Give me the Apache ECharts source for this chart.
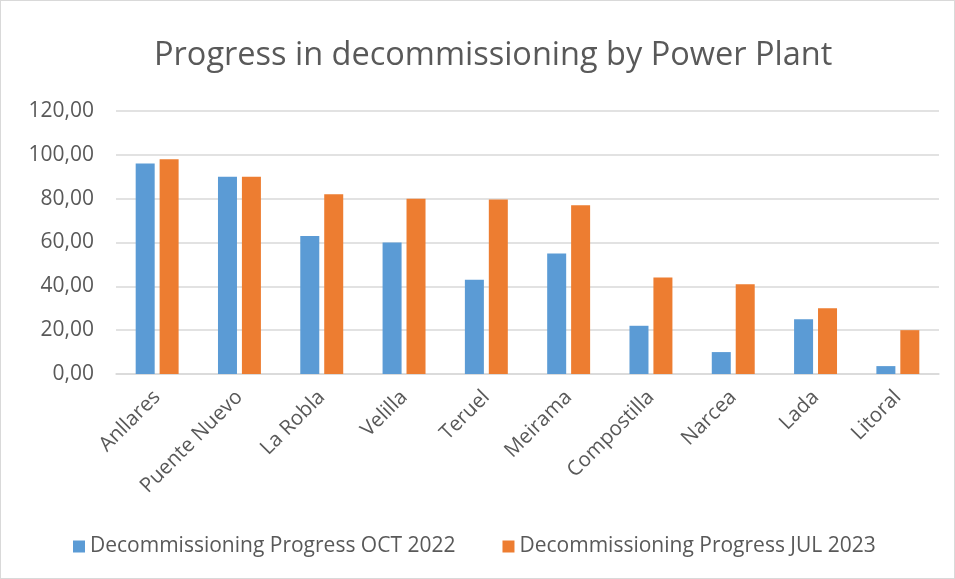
<!DOCTYPE html>
<html>
<head>
<meta charset="utf-8">
<script src="https://cdn.jsdelivr.net/npm/echarts@6/dist/echarts.min.js"></script>
<style>
  html, body { margin: 0; padding: 0; background: #fff; }
  #chart { width: 953px; height: 577px; border: 1px solid #d9d9d9; }
</style>
</head>
<body>
<div id="chart"></div>
<script>
var plants = ['Anllares', 'Puente Nuevo', 'La Robla', 'Velilla', 'Teruel',
  'Meirama', 'Compostilla', 'Narcea', 'Lada', 'Litoral'];
var progressOct2022 = [96, 90, 63, 60, 43, 55, 22, 10, 25, 3.6];
var progressJul2023 = [98, 90, 82, 80, 79.6, 77, 44, 41, 30, 20];

var myChart = echarts.init(document.getElementById('chart'));
var textColor = '#595959';
var font = 'Open Sans';

myChart.setOption({
  color: ['#5b9bd5', '#ed7d31'],
  title: {
    text: 'Progress in decommissioning by Power Plant',
    left: 148,
    top: 33,
    textStyle: { color: textColor, fontFamily: font, fontSize: 32.5, fontWeight: 'normal' }
  },
  legend: {
    bottom: 16,
    left: 67,
    itemWidth: 12,
    itemHeight: 12,
    itemGap: 47,
    icon: 'rect',
    textStyle: { color: textColor, fontFamily: font, fontSize: 21 }
  },
  grid: { left: 115, right: 15, top: 110, bottom: 204 },
  xAxis: {
    type: 'category',
    data: plants,
    axisLine: { lineStyle: { color: '#d9d9d9', width: 1.5 } },
    axisTick: { show: false },
    axisLabel: {
      rotate: 45,
      interval: 0,
      color: textColor,
      fontFamily: font,
      fontSize: 20.5,
      margin: 20
    }
  },
  yAxis: {
    type: 'value',
    min: 0,
    max: 120,
    interval: 20,
    axisLine: { show: false },
    axisTick: { show: false },
    splitLine: { lineStyle: { color: '#d9d9d9', width: 1.5 } },
    axisLabel: {
      color: textColor,
      fontFamily: font,
      fontSize: 21,
      margin: 22,
      formatter: function (v) { return v.toFixed(2).replace('.', ','); }
    }
  },
  series: [
    {
      name: 'Decommissioning Progress OCT 2022',
      type: 'bar',
      barWidth: 19,
      barGap: '26%',
      data: progressOct2022
    },
    {
      name: 'Decommissioning Progress JUL 2023',
      type: 'bar',
      barWidth: 19,
      barGap: '26%',
      data: progressJul2023
    }
  ]
});
</script>
</body>
</html>
